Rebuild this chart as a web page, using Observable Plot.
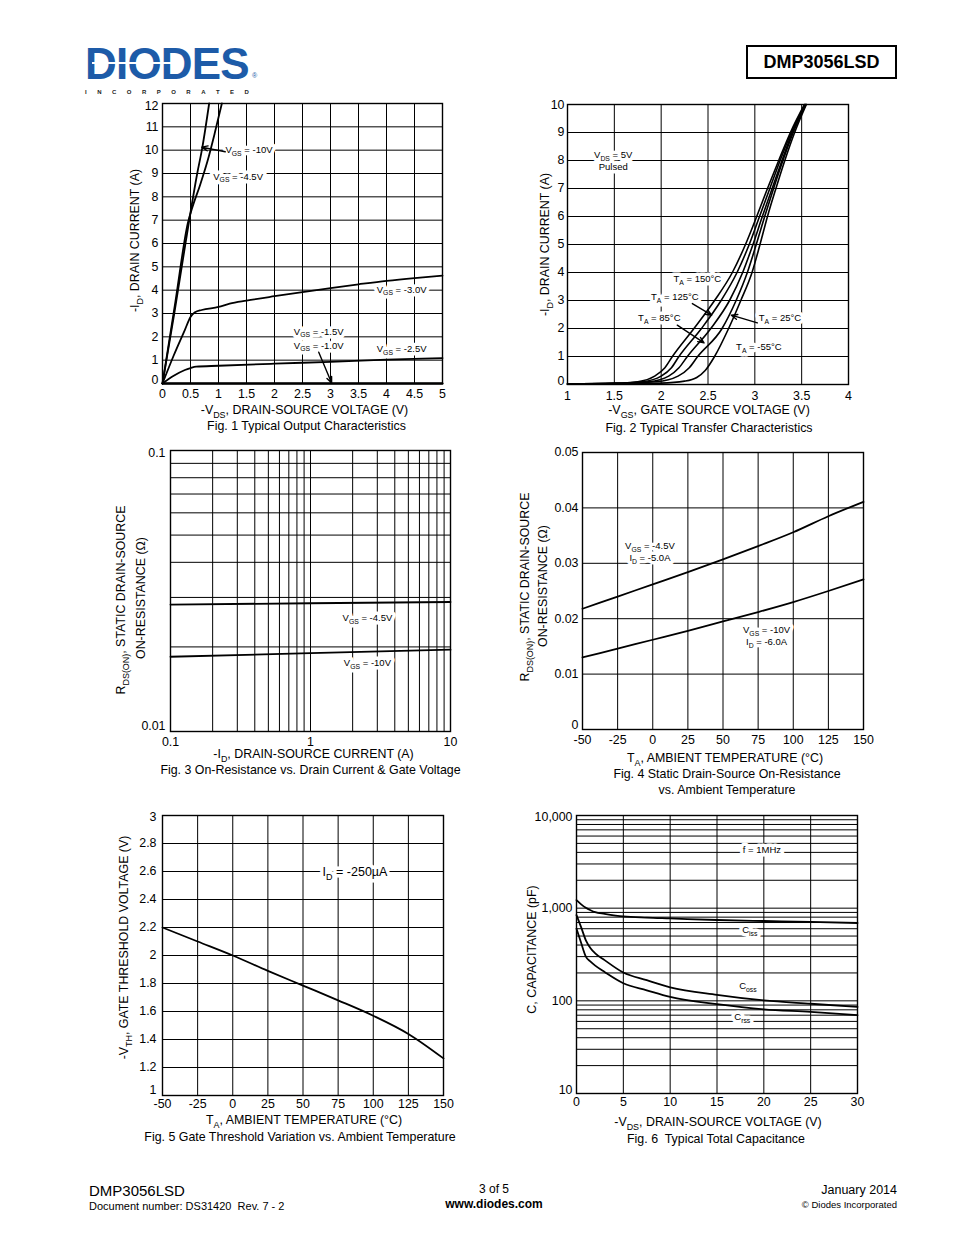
<!DOCTYPE html>
<html>
<head>
<meta charset="utf-8">
<script src="https://cdn.jsdelivr.net/npm/d3@7"></script>
<script src="https://cdn.jsdelivr.net/npm/@observablehq/plot@0.6"></script>
<style>
html, body { margin: 0; padding: 0; background: #fff; }
body { width: 954px; height: 1235px; position: relative; overflow: hidden; color: #000;
       font-family: "Liberation Sans", Arial, Helvetica, sans-serif; }
.abs { position: absolute; white-space: nowrap; line-height: 1; }
.chart { position: absolute; }
.chart svg { display: block; overflow: visible; }
</style>
</head>
<body>
<!-- header -->
<div class="abs" style="left:85px;top:42px;font-size:44px;font-weight:bold;color:#1d5ba8;letter-spacing:-0.8px;">DIODES</div>
<div style="position:absolute;left:92px;top:62px;width:88px;height:2px;background:#fff;"></div>
<div class="abs" style="left:252px;top:72px;font-size:7px;color:#1d5ba8;">®</div>
<div class="abs" style="left:85px;top:89px;width:164px;display:flex;justify-content:space-between;font-size:6px;font-weight:bold;color:#222;">
<span>I</span><span>N</span><span>C</span><span>O</span><span>R</span><span>P</span><span>O</span><span>R</span><span>A</span><span>T</span><span>E</span><span>D</span></div>
<div style="position:absolute;left:746px;top:45px;width:151px;height:34px;box-sizing:border-box;border:2px solid #000;display:flex;align-items:center;justify-content:center;font-size:18px;font-weight:bold;">DMP3056LSD</div>

<!-- footer -->
<div class="abs" style="left:89px;top:1183px;font-size:15px;">DMP3056LSD</div>
<div class="abs" style="left:89px;top:1200.5px;font-size:11px;">Document number: DS31420&nbsp; Rev. 7 - 2</div>
<div class="abs" style="left:494px;top:1183px;font-size:12px;transform:translateX(-50%);">3 of 5</div>
<div class="abs" style="left:494px;top:1198px;font-size:12px;font-weight:bold;transform:translateX(-50%);">www.diodes.com</div>
<div class="abs" style="right:57px;top:1184px;font-size:12.5px;">January 2014</div>
<div class="abs" style="right:57px;top:1199.5px;font-size:9.5px;">© Diodes Incorporated</div>

<script>
// ---------------- DATA ----------------
// Fig. 1 Typical Output Characteristics  [-V_DS (V), -I_D (A)]
const f1_vgs10 = [[0,0],[0.21,3.0],[0.41,6.0],[0.62,9.0],[0.71,10.1],[0.833,12]];
const f1_vgs45 = [[0,0],[0.23,3.5],[0.455,6.9],[0.54,7.6],[0.67,8.5],[0.8,9.5],[0.93,10.7],[1.06,12]];
const f1_vgs30 = [[0,0],[0.2,1.2],[0.4,2.3],[0.5,2.85],[0.58,3.05],[0.7,3.15],[1,3.28],[1.2,3.42],[1.5,3.55],[2,3.74],[2.5,3.92],[3,4.09],[3.5,4.25],[4,4.4],[4.5,4.52],[5,4.62]];
const f1_vgs25 = [[0,0],[0.2,0.33],[0.4,0.58],[0.5,0.66],[0.6,0.72],[1,0.76],[2,0.85],[3,0.93],[4,1.02],[5,1.09]];
const f1_vgs15 = [[0,0],[5,0]];
const f1_vgs10b = [[0,0],[5,0]];
const f1_labels = [
  {x: 1.545, y: 10.0, t: "V_{GS} = -10V"},
  {x: 1.35, y: 8.87, t: "V_{GS} = -4.5V"},
  {x: 4.27, y: 4.03, t: "V_{GS} = -3.0V"},
  {x: 2.79, y: 2.23, t: "V_{GS} = -1.5V"},
  {x: 2.79, y: 1.63, t: "V_{GS} = -1.0V"},
  {x: 4.27, y: 1.46, t: "V_{GS} = -2.5V"}
];
const f1_arrows = [
  {x1: 1.12, y1: 9.93, x2: 0.70, y2: 10.13},
  {x1: 2.79, y1: 1.34, x2: 3.02, y2: 0.02}
];
const f1_ticksX = [0,0.5,1,1.5,2,2.5,3,3.5,4,4.5,5];
const f1_ticksY = [0,1,2,3,4,5,6,7,8,9,10,11,12];

// Fig. 2 Typical Transfer Characteristics [-V_GS (V), -I_D (A)]
const f2_t150 = [[1.0,0.02],[1.5,0.04],[1.75,0.1],[1.93,0.3],[2.04,0.6],[2.12,1],[2.35,2],[2.57,3],[2.76,4],[2.9,5],[3.02,6],[3.135,7],[3.255,8],[3.38,9],[3.53,10]];
const f2_t125 = [[1.0,0.02],[1.5,0.04],[1.8,0.1],[2.0,0.3],[2.11,0.6],[2.19,1],[2.43,2],[2.64,3],[2.81,4],[2.94,5],[3.05,6],[3.16,7],[3.27,8],[3.39,9],[3.535,10]];
const f2_t85  = [[1.0,0.02],[1.5,0.04],[1.87,0.1],[2.08,0.3],[2.19,0.6],[2.28,1],[2.53,2],[2.73,3],[2.87,4],[2.98,5],[3.08,6],[3.185,7],[3.29,8],[3.40,9],[3.54,10]];
const f2_t25  = [[1.0,0.02],[1.5,0.035],[1.95,0.1],[2.18,0.3],[2.3,0.6],[2.39,1],[2.65,2],[2.80,3],[2.92,4],[3.015,5],[3.105,6],[3.2,7],[3.3,8],[3.41,9],[3.545,10]];
const f2_tm55 = [[1.0,0.02],[1.5,0.03],[2.0,0.05],[2.25,0.12],[2.38,0.25],[2.47,0.5],[2.57,1],[2.72,2],[2.85,3],[2.97,4],[3.055,5],[3.135,6],[3.225,7],[3.32,8],[3.425,9],[3.55,10]];
const f2_labels = [
  {x: 1.488, y: 8.19, t: "V_{DS} = 5V"},
  {x: 1.488, y: 7.76, t: "Pulsed"},
  {x: 2.386, y: 3.76, t: "T_{A} = 150°C"},
  {x: 2.146, y: 3.12, t: "T_{A} = 125°C"},
  {x: 1.98, y: 2.37, t: "T_{A} = 85°C"},
  {x: 3.268, y: 2.37, t: "T_{A} = 25°C"},
  {x: 3.043, y: 1.35, t: "T_{A} = -55°C"}
];
const f2_arrows = [
  {x1: 2.333, y1: 2.89, x2: 2.539, y2: 2.475},
  {x1: 2.172, y1: 2.12, x2: 2.458, y2: 1.486},
  {x1: 3.027, y1: 2.2, x2: 2.749, y2: 2.475}
];
const f2_ticksX = [1,1.5,2,2.5,3,3.5,4];
const f2_ticksY = [0,1,2,3,4,5,6,7,8,9,10];

// Fig. 3 On-Resistance vs Drain Current [-I_D (A), R (ohm)]
const f3_id  = [0.1, 1, 10];
const f3_r45 = [0.0283, 0.0286, 0.0289];
const f3_r10 = [0.01845, 0.0190, 0.01955];
const f3_labels = [
  {x: 2.55, y: 0.0254, t: "V_{GS} = -4.5V"},
  {x: 2.55, y: 0.01757, t: "V_{GS} = -10V"}
];
const f3_gridX = [0.1,0.2,0.3,0.4,0.5,0.6,0.7,0.8,0.9,1,2,3,4,5,6,7,8,9,10];
const f3_gridY = [0.01,0.02,0.03,0.04,0.05,0.06,0.07,0.08,0.09,0.1];
const f3_ticksX = [0.1, 1, 10];
const f3_ticksY = [0.01, 0.1];

// Fig. 4 On-Resistance vs Temperature [T_A (C), R (ohm)]
const f4_T   = [-50,-25,0,25,50,75,100,125,150];
const f4_r45 = [0.0218,0.0240,0.0262,0.0284,0.0307,0.0331,0.0356,0.0385,0.0411];
const f4_r10 = [0.0130,0.0146,0.0162,0.0178,0.0195,0.0212,0.0230,0.0250,0.0271];
const f4_labels = [
  {x: -2, y: 0.03305, t: "V_{GS} = -4.5V"},
  {x: -2, y: 0.03089, t: "I_{D} = -5.0A"},
  {x: 81, y: 0.0179, t: "V_{GS} = -10V"},
  {x: 81, y: 0.01574, t: "I_{D} = -6.0A"}
];
const f4_ticksX = [-50,-25,0,25,50,75,100,125,150];
const f4_ticksY = [0,0.01,0.02,0.03,0.04,0.05];

// Fig. 5 Gate Threshold vs Temperature [T_A (C), -V_TH (V)]
const f5_T   = [-50,-25,0,25,50,75,100,125,150];
const f5_vth = [2.2,2.1,2.0,1.89,1.785,1.68,1.57,1.44,1.265];
const f5_labels = [{x: 87, y: 2.593, t: "I_{D} = -250µA"}];
const f5_ticksX = [-50,-25,0,25,50,75,100,125,150];
const f5_ticksY = [1,1.2,1.4,1.6,1.8,2,2.2,2.4,2.6,2.8,3];

// Fig. 6 Typical Total Capacitance [-V_DS (V), C (pF)]
const f6_V    = [0,0.5,1,1.5,2,3,5,7.5,10,15,20,25,30];
const f6_ciss = [1220,1100,1010,950,905,870,815,790,775,745,727,712,692];
const f6_coss = [840,620,450,370,325,275,202,167,140,116,101,93,86];
const f6_crss = [600,420,300,265,240,205,155,130,110,92,81,76,70];
const f6_labels = [
  {x: 19.8, y: 4300, t: "f = 1MHz"},
  {x: 18.5, y: 575, t: "C_{iss}"},
  {x: 18.3, y: 143, t: "C_{oss}"},
  {x: 17.7, y: 67, t: "C_{rss}"}
];
const f6_ticksX = [0,5,10,15,20,25,30];
const f6_ticksY = [10,100,1000,10000];
const f6_gridY = [10,20,30,40,50,60,70,80,90,100,200,300,400,500,600,700,800,900,1000,2000,3000,4000,5000,6000,7000,8000,9000,10000];

// ---------------- DRAWING ----------------
const FONT = "'Liberation Sans', Arial, Helvetica, sans-serif";
const S = String;
const NS = "http://www.w3.org/2000/svg";

function subify(root) {
  const nodes = Array.from(root.querySelectorAll("text, tspan"))
    .filter(n => n.children.length === 0 && n.textContent.includes("_{"));
  for (const n of nodes) {
    const fs = parseFloat(getComputedStyle(n).fontSize) || 12;
    const sh = (fs * 0.3).toFixed(2);
    const parts = n.textContent.split(/_\{([^}]*)\}/);
    n.textContent = "";
    let shifted = false;
    parts.forEach((p, i) => {
      if (!p) return;
      const t = document.createElementNS(NS, "tspan");
      t.textContent = p;
      if (i % 2 === 1) {
        t.setAttribute("font-size", (fs * 0.72).toFixed(2));
        t.setAttribute("dy", sh);
        shifted = true;
      } else if (shifted) {
        t.setAttribute("dy", "-" + sh);
        shifted = false;
      }
      n.appendChild(t);
    });
  }
}

function place(svg, left, top) {
  const div = document.createElement("div");
  div.className = "chart";
  div.style.left = left + "px";
  div.style.top = top + "px";
  div.appendChild(svg);
  document.body.appendChild(div);
  subify(svg);
}

const curve = (data, opts = {}) => Plot.line(data, {x: d => d[0], y: d => d[1], stroke: "#000", strokeWidth: 1.8, curve: "monotone-x", ...opts});
const halo = (data, fs = 9.5) => Plot.text(data, {x: "x", y: "y", text: "t", fontSize: fs, fill: "#fff", stroke: "#fff", strokeWidth: 7, strokeLinejoin: "round"});
const label = (data, fs = 9.5) => Plot.text(data, {x: "x", y: "y", text: "t", fontSize: fs, fill: "#000"});
const arrows = (data) => Plot.arrow(data, {x1: "x1", y1: "y1", x2: "x2", y2: "y2", stroke: "#000", strokeWidth: 1.4, headLength: 7, headAngle: 45});

function fig(o) {
  const {fx0, fx1, fy0, fy1, mL = 70, mR = 25, mT = 15, mB = 75,
         x, y, gridX, gridY, ticksX, ticksY, fmtX = S, fmtY = S, padX = 6, padY = 4,
         endDy = [0, 0], yTitles, xTitles, under = [], marks} = o;
  const width = fx1 - fx0 + mL + mR, height = fy1 - fy0 + mT + mB;
  const yAx = (ticks, dy) => Plot.axisY({ticks, dy, tickSize: 0, tickPadding: padY, tickFormat: fmtY, label: null});
  const midY = ticksY.slice(1, -1);
  const svg = Plot.plot({
    width, height, marginLeft: mL, marginRight: mR, marginTop: mT, marginBottom: mB,
    x: {...x, label: null}, y: {...y, label: null},
    style: {fontFamily: FONT, fontSize: "12.4px", background: "transparent", overflow: "visible", color: "#000"},
    marks: [
      Plot.ruleX(gridX, {stroke: "#000", strokeWidth: 1}),
      Plot.ruleY(gridY, {stroke: "#000", strokeWidth: 1}),
      ...under,
      Plot.frame({stroke: "#000", strokeWidth: 1.4}),
      Plot.axisX({ticks: ticksX, tickSize: 0, tickPadding: padX, tickFormat: fmtX, label: null}),
      ...(midY.length ? [yAx(midY, 0)] : []),
      yAx([ticksY[0]], endDy[0]),
      yAx([ticksY[ticksY.length - 1]], endDy[1]),
      ...yTitles.map(([t, dx, dy]) => Plot.text([t], {frameAnchor: "left", rotate: -90, textAnchor: "middle", lineAnchor: "middle", dx, dy, fontSize: 12.4, fill: "#000"})),
      ...xTitles.map(([t, dy, dx]) => Plot.text([t], {frameAnchor: "bottom", textAnchor: "middle", lineAnchor: "middle", dx, dy, fontSize: 12.4, fill: "#000"})),
      ...marks
    ]
  });
  place(svg, fx0 - mL, fy0 - mT);
}

// Fig. 1
fig({
  fx0: 162, fx1: 442, fy0: 103, fy1: 383, mL: 60, mR: 30, mB: 60,
  x: {domain: [0, 5]}, y: {domain: [0, 12]},
  gridX: f1_ticksX, gridY: f1_ticksY, ticksX: f1_ticksX, ticksY: f1_ticksY, padX: 6, padY: 4, endDy: [-3, 3],
  yTitles: [["-I_{D}, DRAIN CURRENT (A)", -27, -3]],
  xTitles: [["-V_{DS}, DRAIN-SOURCE VOLTAGE (V)", 27, 2], ["Fig. 1 Typical Output Characteristics", 43, 4]],
  under: [halo(f1_labels)],
  marks: [
    curve(f1_vgs10), curve(f1_vgs45), curve(f1_vgs30), curve(f1_vgs25),
    curve(f1_vgs15, {curve: "linear"}), curve(f1_vgs10b, {curve: "linear"}),
    arrows(f1_arrows), label(f1_labels)
  ]
});

// Fig. 2
fig({
  fx0: 567, fx1: 848, fy0: 104, fy1: 384, mL: 60, mR: 30, mB: 60,
  x: {domain: [1, 4]}, y: {domain: [0, 10]},
  gridX: f2_ticksX, gridY: f2_ticksY, ticksX: f2_ticksX, ticksY: f2_ticksY, padX: 7, padY: 3, endDy: [-3, 1],
  yTitles: [["-I_{D}, DRAIN CURRENT (A)", -22, 0]],
  xTitles: [["-V_{GS}, GATE SOURCE VOLTAGE (V)", 26, 1], ["Fig. 2 Typical Transfer Characteristics", 44, 1]],
  under: [halo(f2_labels)],
  marks: [
    curve(f2_t150, {strokeWidth: 1.6}), curve(f2_t125, {strokeWidth: 1.6}), curve(f2_t85, {strokeWidth: 1.6}),
    curve(f2_t25, {strokeWidth: 1.6}), curve(f2_tm55, {strokeWidth: 1.6}),
    arrows(f2_arrows), label(f2_labels)
  ]
});

// Fig. 3
const f3_s45 = f3_id.map((v, i) => [v, f3_r45[i]]);
const f3_s10 = f3_id.map((v, i) => [v, f3_r10[i]]);
fig({
  fx0: 170, fx1: 450, fy0: 450, fy1: 731, mL: 75, mR: 25, mB: 60,
  x: {type: "log", domain: [0.1, 10]}, y: {type: "log", domain: [0.01, 0.1]},
  gridX: f3_gridX, gridY: f3_gridY, ticksX: f3_ticksX, ticksY: f3_ticksY, padX: 6, padY: 5, endDy: [-5, 3],
  yTitles: [["R_{DS(ON)}, STATIC DRAIN-SOURCE", -49, 9], ["ON-RESISTANCE (Ω)", -29, 7]],
  xTitles: [["-I_{D}, DRAIN-SOURCE CURRENT (A)", 23, 3], ["Fig. 3 On-Resistance vs. Drain Current & Gate Voltage", 39, 0]],
  under: [halo(f3_labels)],
  marks: [curve(f3_s45, {curve: "linear"}), curve(f3_s10, {curve: "linear"}), label(f3_labels)]
});

// Fig. 4
const f4_s45 = f4_T.map((t, i) => [t, f4_r45[i]]);
const f4_s10 = f4_T.map((t, i) => [t, f4_r10[i]]);
fig({
  fx0: 582, fx1: 863, fy0: 452, fy1: 729, mL: 75, mR: 25, mB: 80,
  x: {domain: [-50, 150]}, y: {domain: [0, 0.05]},
  gridX: f4_ticksX, gridY: f4_ticksY, ticksX: f4_ticksX, ticksY: f4_ticksY, padX: 6, padY: 4, endDy: [-4, 0],
  yTitles: [["R_{DS(ON)}, STATIC DRAIN-SOURCE", -57, -4], ["ON-RESISTANCE (Ω)", -39, -5]],
  xTitles: [["T_{A}, AMBIENT TEMPERATURE (°C)", 29, 2], ["Fig. 4 Static Drain-Source On-Resistance", 45, 4], ["vs. Ambient Temperature", 61, 4]],
  under: [halo(f4_labels)],
  marks: [curve(f4_s45), curve(f4_s10), label(f4_labels)]
});

// Fig. 5
const f5_s = f5_T.map((t, i) => [t, f5_vth[i]]);
fig({
  fx0: 162, fx1: 443, fy0: 815, fy1: 1095, mL: 60, mR: 25, mB: 60,
  x: {domain: [-50, 150]}, y: {domain: [1, 3]},
  gridX: f5_ticksX, gridY: f5_ticksY, ticksX: f5_ticksX, ticksY: f5_ticksY, padX: 4, padY: 6, endDy: [-5, 2],
  yTitles: [["-V_{TH}, GATE THRESHOLD VOLTAGE (V)", -38, -8]],
  xTitles: [["T_{A}, AMBIENT TEMPERATURE (°C)", 25, 1], ["Fig. 5 Gate Threshold Variation vs. Ambient Temperature", 42, -3]],
  under: [halo(f5_labels, 12.5)],
  marks: [curve(f5_s), label(f5_labels, 12.5)]
});

// Fig. 6
const f6_si = f6_V.map((v, i) => [v, f6_ciss[i]]);
const f6_so = f6_V.map((v, i) => [v, f6_coss[i]]);
const f6_sr = f6_V.map((v, i) => [v, f6_crss[i]]);
fig({
  fx0: 576, fx1: 857, fy0: 815, fy1: 1093, mL: 65, mR: 25, mB: 60,
  x: {domain: [0, 30]}, y: {type: "log", domain: [10, 10000]},
  gridX: f6_ticksX, gridY: f6_gridY, ticksX: f6_ticksX, ticksY: f6_ticksY, fmtY: d3.format(","), padX: 4, padY: 4, endDy: [-3, 2],
  yTitles: [["C, CAPACITANCE (pF)", -44, -5]],
  xTitles: [["-V_{DS}, DRAIN-SOURCE VOLTAGE (V)", 29, 1], ["Fig. 6\u00a0 Typical Total Capacitance", 46, -1]],
  under: [halo(f6_labels)],
  marks: [curve(f6_si), curve(f6_so), curve(f6_sr), label(f6_labels)]
});
</script>
</body>
</html>
